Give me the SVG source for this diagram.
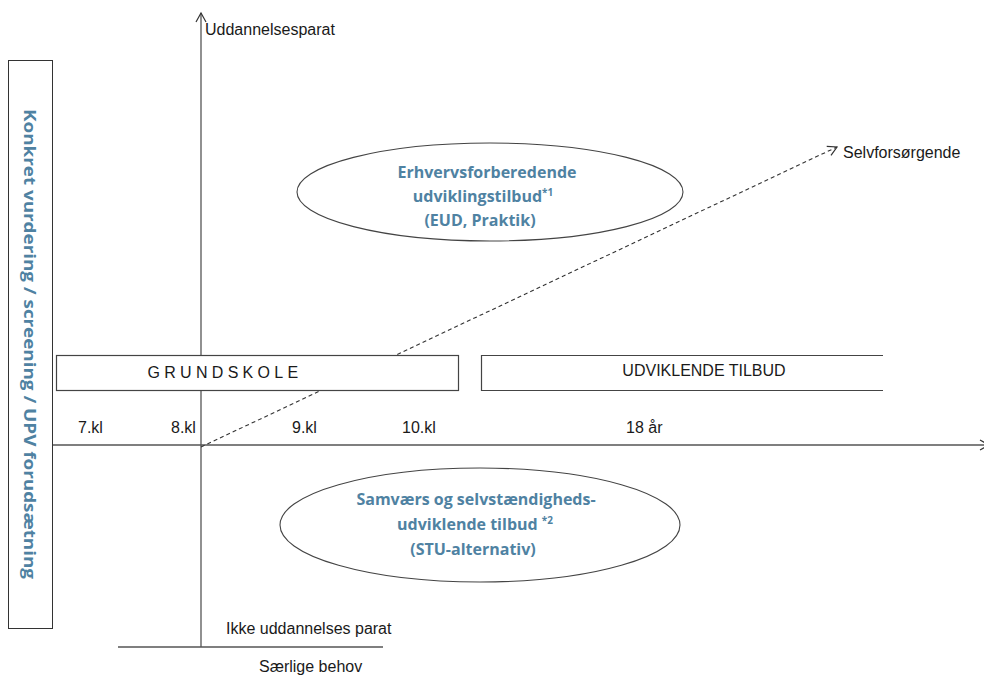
<svg xmlns="http://www.w3.org/2000/svg" width="984" height="675" viewBox="0 0 984 675">
<style>
.ax{stroke:#555;stroke-width:1.3;fill:none}
.bx{stroke:#444;stroke-width:1.2;fill:#fff}
.t{font-family:"Liberation Sans",Arial,sans-serif;font-size:16px;fill:#1a1a1a}
.b{font-family:"Open Sans","Liberation Sans",sans-serif;font-size:16px;font-weight:bold;fill:#4f82a2;text-anchor:middle}
</style>
<defs>
<marker id="oa" markerWidth="12" markerHeight="12" refX="10" refY="6" orient="auto" markerUnits="userSpaceOnUse">
<path d="M1,1 L10,6 L1,11" fill="none" stroke="#333" stroke-width="1.2"/>
</marker>
</defs>
<rect width="984" height="675" fill="#fff"/>
<g id="connectors">
<line class="ax" x1="201" y1="647" x2="201" y2="13" marker-end="url(#oa)"/>
<line class="ax" x1="52" y1="445" x2="989" y2="445" marker-end="url(#oa)"/>
<line class="ax" x1="118" y1="647" x2="383" y2="647"/>
<line x1="201" y1="447" x2="837" y2="147" stroke="#333" stroke-width="1.1" stroke-dasharray="4,3" marker-end="url(#oa)"/>
</g>
<g id="side">
<rect x="8.5" y="60.5" width="44" height="568" fill="#fff" stroke="#333" stroke-width="1"/>
<text class="b" transform="translate(24,344) rotate(90)" font-size="17" textLength="470" lengthAdjust="spacingAndGlyphs">Konkret vurdering / screening / UPV forudsætning</text>
</g>
<g id="grundskole">
<rect class="bx" x="56.5" y="355.5" width="402" height="35"/>
<text class="t" x="225" y="378" text-anchor="middle" letter-spacing="4.3" font-size="14">GRUNDSKOLE</text>
</g>
<g id="udviklende">
<path class="bx" d="M883,355.5 H481.5 V390.5 H883"/>
<text class="t" x="704" y="376" text-anchor="middle" font-size="15.5">UDVIKLENDE TILBUD</text>
</g>
<g id="erhverv">
<ellipse cx="490" cy="192" rx="193" ry="49" fill="#fff" stroke="#444" stroke-width="1.1"/>
<text class="b" x="487" y="178">Erhvervsforberedende</text>
<text class="b" x="483" y="202">udviklingstilbud<tspan font-size="10" dy="-6">*1</tspan></text>
<text class="b" x="480" y="226">(EUD, Praktik)</text>
</g>
<g id="samvaer">
<ellipse cx="480" cy="525" rx="200" ry="57" fill="#fff" stroke="#444" stroke-width="1.1"/>
<text class="b" x="476" y="505">Samværs og selvstændigheds-</text>
<text class="b" x="475" y="530">udviklende tilbud <tspan font-size="10" dy="-6">*2</tspan></text>
<text class="b" x="473" y="555">(STU-alternativ)</text>
</g>
<g id="labels">
<text class="t" x="205" y="35">Uddannelsesparat</text>
<text class="t" x="843" y="158">Selvforsørgende</text>
<text class="t" x="78" y="433">7.kl</text>
<text class="t" x="171" y="433">8.kl</text>
<text class="t" x="292" y="433">9.kl</text>
<text class="t" x="402" y="433">10.kl</text>
<text class="t" x="626" y="433">18 år</text>
<text class="t" x="226" y="634">Ikke uddannelses parat</text>
<text class="t" x="259" y="672">Særlige behov</text>
</g>
</svg>
